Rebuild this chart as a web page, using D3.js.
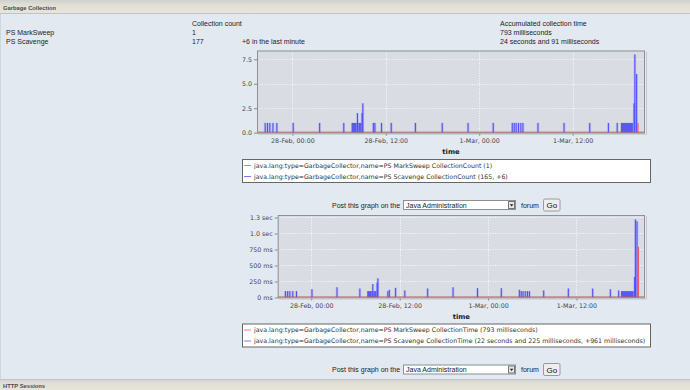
<html>
<head>
<script src="https://d3js.org/d3.v7.min.js"></script>
<style>
  body { margin: 0; background: #e3e9f1; }
  svg text { font-family: "Liberation Sans", Arial, sans-serif; }
  .chart text { font-family: "DejaVu Sans", sans-serif; }
</style>
</head>
<body>
<svg width="690" height="390"></svg>
<script>
// GC events, hours from 28-Feb 00:00
const eventHours   = [-3.5, -3.2, -2.9, -2.5, -2.0, 0.1, 3.5, 6.6, 8.36, 8.95, 9.05, 10.4, 10.6, 11.45, 12.7, 15.8, 19.25,
                      22.57, 25.8, 28.25, 28.5, 28.75, 29.05, 29.35, 29.62, 31.55, 34.9, 38.2, 40.6, 41.73, 43.9, 44.0, 44.22];
const scavengeCount = [1, 1, 1, 1, 1, 1, 1, 1, 2, 2, 3, 1, 1, 1, 1, 1, 1,
                       1, 1, 1, 1, 1, 1, 1, 1, 1, 1, 1, 1, 1, 3, 8, 6];
const scavengeMs    = [100, 100, 100, 100, 100, 130, 160, 140, 210, 230, 300, 100, 120, 150, 110, 140, 160,
                       145, 145, 120, 100, 100, 100, 100, 100, 110, 140, 140, 130, 110, 320, 1220, 1190];
// busy periods [from hour, to hour, value]
const countBlocks = [[7.59, 8.95, 1], [42.19, 43.77, 1]];
const timeBlocks  = [[7.59, 8.95, 100], [42.03, 43.84, 100]];
const markSweepHours = [44.4];
const markSweepCount = [1];
const markSweepMs    = [793];

const hourDomain  = [-4.55, 45.3];
const xTickHours  = [0, 12, 24, 36];
const xTickLabels = ["28-Feb, 00:00", "28-Feb, 12:00", "1-Mar, 00:00", "1-Mar, 12:00"];
const countTicks  = [0, 2.5, 5, 7.5];
const countTickLabels = ["0.0", "2.5", "5.0", "7.5"];
const timeTicks   = [0, 250, 500, 750, 1000, 1250];
const timeTickLabels = ["0 ms", "250 ms", "500 ms", "750 ms", "1.0 sec", "1.3 sec"];

const base = new Date(2011, 1, 28, 0, 0);
function hr(h) { return new Date(base.getTime() + h * 3600e3); }

var svg = d3.select("svg");

// header / footer bars
var grad = svg.append("defs").append("linearGradient").attr("id", "bar").attr("x1", 0).attr("x2", 0).attr("y1", 0).attr("y2", 1);
grad.append("stop").attr("offset", "0%").attr("stop-color", "#cfd0cf");
grad.append("stop").attr("offset", "40%").attr("stop-color", "#e2dfd4");
grad.append("stop").attr("offset", "100%").attr("stop-color", "#e7e4d9");
svg.append("rect").attr("x", 0).attr("y", 0).attr("width", 690).attr("height", 13).attr("fill", "url(#bar)");
svg.append("line").attr("x1", 0).attr("x2", 690).attr("y1", 13.5).attr("y2", 13.5).attr("stroke", "#bfc3c8");
svg.append("rect").attr("x", 0).attr("y", 379).attr("width", 690).attr("height", 11).attr("fill", "url(#bar)");
svg.append("line").attr("x1", 0).attr("x2", 690).attr("y1", 379.5).attr("y2", 379.5).attr("stroke", "#c4c6c6");
svg.append("line").attr("x1", 0.5).attr("x2", 0.5).attr("y1", 14).attr("y2", 379).attr("stroke", "#d0d6dd");

svg.append("text").attr("x", 3).attr("y", 9.5).attr("font-weight", 700).style("font-size", "5.8px").attr("fill", "#4a4a4a").text("Garbage Collection");
svg.append("text").attr("x", 3).attr("y", 387.5).attr("font-weight", 700).style("font-size", "5.8px").attr("fill", "#4a4a4a").text("HTTP Sessions");

// summary table
var rows = [
  [192, 26, "Collection count"], [500, 26, "Accumulated collection time"],
  [6, 35, "PS MarkSweep"], [192, 35, "1"], [500, 35, "793 milliseconds"],
  [6, 44, "PS Scavenge"], [192, 44, "177"], [242, 44, "+6 in the last minute"], [500, 44, "24 seconds and 91 milliseconds"]
];
svg.selectAll(".row").data(rows).enter().append("text")
  .attr("x", function(d) { return d[0]; })
  .attr("y", function(d) { return d[1]; })
  .style("font-size", "7px").attr("fill", "#222")
  .text(function(d) { return d[2]; });

function drawChart(c) {
  var g = svg.append("g").attr("class", "chart");
  var xs = d3.scaleTime().domain(hourDomain.map(hr)).range([c.left, 645]);
  var ys = d3.scaleLinear().domain([0, c.ymax]).range([c.bottom, c.top]);

  g.append("rect").attr("x", c.left).attr("y", c.top).attr("width", 645 - c.left).attr("height", c.bottom - c.top)
    .attr("fill", "#d9dce2");

  // grid
  g.selectAll(".hg").data(c.yticks.slice(1)).enter().append("line")
    .attr("x1", c.left).attr("x2", 645)
    .attr("y1", function(d) { return Math.round(ys(d)) + 0.5; })
    .attr("y2", function(d) { return Math.round(ys(d)) + 0.5; })
    .attr("stroke", "#fafafa").attr("stroke-dasharray", "1,1.5");
  g.selectAll(".vg").data(xTickHours).enter().append("line")
    .attr("y1", c.top).attr("y2", c.bottom)
    .attr("x1", function(d) { return Math.round(xs(hr(d))) + 0.5; })
    .attr("x2", function(d) { return Math.round(xs(hr(d))) + 0.5; })
    .attr("stroke", "#fafafa").attr("stroke-dasharray", "1,1.5");

  // busy blocks
  g.selectAll(".blk").data(c.blocks).enter().append("rect")
    .attr("x", function(d) { return xs(hr(d[0])); })
    .attr("width", function(d) { return xs(hr(d[1])) - xs(hr(d[0])); })
    .attr("y", function(d) { return ys(d[2]); })
    .attr("height", function(d) { return c.bottom - ys(d[2]); })
    .attr("fill", "#4646f4").attr("opacity", 0.88);

  // scavenge spikes
  var ev = eventHours.map(function(h, i) { return [h, c.values[i]]; });
  g.selectAll(".halo").data(ev).enter().append("line")
    .attr("x1", function(d) { return xs(hr(d[0])); }).attr("x2", function(d) { return xs(hr(d[0])); })
    .attr("y1", c.bottom).attr("y2", function(d) { return ys(d[1]); })
    .attr("stroke", "#a4a6f2").attr("stroke-width", 2.6).attr("opacity", 0.6);
  g.selectAll(".spk").data(ev).enter().append("line")
    .attr("x1", function(d) { return xs(hr(d[0])); }).attr("x2", function(d) { return xs(hr(d[0])); })
    .attr("y1", c.bottom).attr("y2", function(d) { return ys(d[1]); })
    .attr("stroke", "#4040ff").attr("stroke-width", 0.9);

  // mark sweep
  var ms = markSweepHours.map(function(h, i) { return [h, c.red[i]]; });
  g.selectAll(".red").data(ms).enter().append("line")
    .attr("x1", function(d) { return xs(hr(d[0])); }).attr("x2", function(d) { return xs(hr(d[0])); })
    .attr("y1", c.bottom).attr("y2", function(d) { return ys(d[1]); })
    .attr("stroke", "#f05858").attr("stroke-width", 1.2);
  g.append("line").attr("x1", c.left).attr("x2", 645).attr("y1", c.bottom - 0.5).attr("y2", c.bottom - 0.5)
    .attr("stroke", "#b85a55").attr("stroke-width", 1);

  g.append("rect").attr("x", c.left + 0.5).attr("y", c.top + 0.5).attr("width", 645 - c.left - 1).attr("height", c.bottom - c.top)
    .attr("fill", "none").attr("stroke", "#8e9094");
  g.append("line").attr("x1", c.left + 1).attr("x2", 646.5).attr("y1", c.bottom + 1.5).attr("y2", c.bottom + 1.5).attr("stroke", "#c4c8ce");
  g.append("line").attr("x1", 646.5).attr("x2", 646.5).attr("y1", c.top + 1).attr("y2", c.bottom + 1.5).attr("stroke", "#c4c8ce");

  // axes
  var ya = g.append("g").attr("transform", "translate(" + c.left + ",0)")
    .call(d3.axisLeft(ys).tickValues(c.yticks).tickSize(3).tickPadding(2)
      .tickFormat(function(d, i) { return c.ylabels[i]; }));
  var xa = g.append("g").attr("transform", "translate(0," + (c.bottom + 1) + ")")
    .call(d3.axisBottom(xs).tickValues(xTickHours.map(hr)).tickSize(2).tickPadding(3)
      .tickFormat(function(d, i) { return xTickLabels[i]; }));
  [ya, xa].forEach(function(a) {
    a.select(".domain").remove();
    a.selectAll("line").attr("stroke", "#888");
    a.selectAll("text").style("font-size", "6.3px").attr("fill", "#444").style("font-family", "DejaVu Sans");
  });

  g.append("text").attr("x", (c.left + 645) / 2).attr("y", c.bottom + 21).attr("text-anchor", "middle")
    .attr("font-weight", 700).style("font-size", "6.8px").attr("fill", "#222").text("time");

  // legend
  g.append("rect").attr("x", 242.5).attr("y", c.legendY + 0.5).attr("width", 408).attr("height", 23)
    .attr("fill", "#fff").attr("stroke", "#666");
  [["#ff7a7a", c.legend[0]], ["#7a7aff", c.legend[1]]].forEach(function(d, i) {
    var yy = c.legendY + 6.5 + i * 11;
    g.append("line").attr("x1", 244).attr("x2", 251).attr("y1", yy).attr("y2", yy).attr("stroke", d[0]);
    g.append("text").attr("x", 254).attr("y", yy + 2.2).style("font-size", "6.28px").attr("fill", "#333").text(d[1]);
  });
}

function postRow(y) {
  svg.append("text").attr("x", 332).attr("y", y + 2.5).style("font-size", "7px").attr("fill", "#222").text("Post this graph on the");
  svg.append("rect").attr("x", 403.5).attr("y", y - 4.5).attr("width", 112).attr("height", 9).attr("fill", "#fff").attr("stroke", "#8a8f96");
  svg.append("text").attr("x", 406).attr("y", y + 2.5).style("font-size", "7px").attr("fill", "#222").text("Java Administration");
  svg.append("rect").attr("x", 508.5).attr("y", y - 3.5).attr("width", 6).attr("height", 7).attr("fill", "#e6e6e6").attr("stroke", "#777");
  svg.append("path").attr("d", "M509.8," + (y - 0.8) + "h3.6l-1.8,2.2z").attr("fill", "#222");
  svg.append("text").attr("x", 521).attr("y", y + 2.5).style("font-size", "7px").attr("fill", "#222").text("forum");
  svg.append("rect").attr("x", 543.5).attr("y", y - 6).attr("width", 16.5).attr("height", 12).attr("rx", 1.5)
    .attr("fill", "#eeeeee").attr("stroke", "#9a9a9a");
  svg.append("text").attr("x", 551.8).attr("y", y + 3).attr("text-anchor", "middle").style("font-size", "8px").attr("fill", "#111").text("Go");
}

drawChart({ left: 257, top: 50.5, bottom: 132.7, ymax: 8.4, yticks: countTicks, ylabels: countTickLabels,
  values: scavengeCount, blocks: countBlocks, red: markSweepCount, legendY: 159,
  legend: ["java.lang:type=GarbageCollector,name=PS MarkSweep CollectionCount (1)",
           "java.lang:type=GarbageCollector,name=PS Scavenge CollectionCount (165, +6)"] });
postRow(205);
drawChart({ left: 277.7, top: 215, bottom: 297.5, ymax: 1289, yticks: timeTicks, ylabels: timeTickLabels,
  values: scavengeMs, blocks: timeBlocks, red: markSweepMs, legendY: 323.5,
  legend: ["java.lang:type=GarbageCollector,name=PS MarkSweep CollectionTime (793 milliseconds)",
           "java.lang:type=GarbageCollector,name=PS Scavenge CollectionTime (22 seconds and 225 milliseconds, +961 milliseconds)"] });
postRow(369.5);
</script>
</body>
</html>
